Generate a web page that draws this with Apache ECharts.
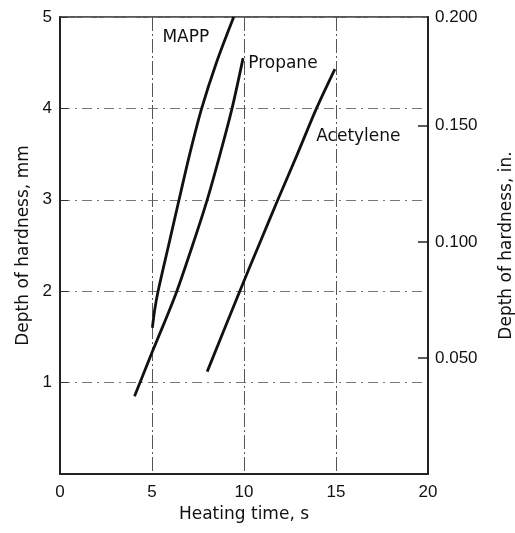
<!DOCTYPE html>
<html>
<head>
<meta charset="utf-8">
<script src="https://cdn.jsdelivr.net/npm/echarts@6/dist/echarts.min.js"></script>
<style>
  html, body { margin: 0; padding: 0; background: #fff; }
  #chart { width: 515px; height: 533px; }
</style>
</head>
<body>
<div id="chart"></div>
<script>
// heating time (s) vs depth of hardness (mm)
const mappTime = [5.02, 5.15, 5.33, 5.9, 6.47, 7.05, 7.7, 8.5, 9.44]
const mappDepth = [1.6, 1.8, 2.0, 2.5, 3.0, 3.5, 4.0, 4.5, 5.0]
const propaneTime = [4.05, 5.0, 5.7, 6.35, 7.2, 8.0, 8.7, 9.35, 9.95]
const propaneDepth = [0.85, 1.33, 1.67, 2.0, 2.5, 3.0, 3.5, 4.0, 4.55]
const acetyleneTime = [8.0, 9.77, 10.8, 11.84, 12.9, 13.94, 14.94]
const acetyleneDepth = [1.12, 2.0, 2.5, 3.0, 3.5, 4.0, 4.43]

// axes
const timeTicks = [0, 5, 10, 15, 20]
const mmTicks = [1, 2, 3, 4, 5]
const inchTicks = [0.05, 0.1, 0.15]
const inchTopLabel = '0.200'
const MM_MAX = 5
const IN_MAX = MM_MAX / 25.4

const pair = (xs, ys) => xs.map((x, i) => [x, ys[i]])

const chart = echarts.init(document.getElementById('chart'))

const nameFont = { fontFamily: 'DejaVu Sans', fontSize: 17, color: '#111' }
const tickFont = { fontFamily: 'Liberation Sans', fontSize: 17, color: '#111' }

const curve = (name, xs, ys, at) => ({
  name: name,
  type: 'line',
  data: pair(xs, ys),
  showSymbol: false,
  smooth: 0.3,
  lineStyle: { color: '#111', width: 2.8 },
  markPoint: {
    symbol: 'circle',
    symbolSize: 1,
    itemStyle: { color: 'transparent' },
    label: {
      show: true,
      position: 'right',
      distance: 0,
      formatter: name,
      ...nameFont
    },
    data: [{ coord: at }]
  }
})

const option = {
  backgroundColor: '#fff',
  animation: false,
  grid: {
    left: 60,
    right: 87,
    top: 17,
    bottom: 59,
    outerBoundsMode: 'none',
    containLabel: false,
    show: true,
    borderColor: '#222',
    borderWidth: 1.5
  },
  xAxis: {
    type: 'value',
    min: timeTicks[0],
    max: timeTicks[timeTicks.length - 1],
    interval: 5,
    name: 'Heating time, s',
    nameLocation: 'middle',
    nameGap: 32,
    nameTextStyle: nameFont,
    axisLine: { lineStyle: { color: '#222', width: 2 } },
    axisTick: { show: false },
    axisLabel: { margin: 10, ...tickFont },
    splitLine: { lineStyle: { color: '#555', width: 1, type: [14, 3, 2, 3] } }
  },
  yAxis: [
    {
      type: 'value',
      min: 0,
      max: mmTicks[mmTicks.length - 1],
      interval: 1,
      name: 'Depth of hardness, mm',
      nameLocation: 'middle',
      nameRotate: 90,
      nameGap: 28,
      nameTextStyle: nameFont,
      axisLine: { show: true, lineStyle: { color: '#222', width: 2 } },
      axisTick: { show: true, inside: true, length: 8, lineStyle: { color: '#333' } },
      axisLabel: { showMinLabel: false, margin: 8, ...tickFont },
      splitLine: { lineStyle: { color: '#777', width: 1, type: [10, 5, 2, 5] } }
    },
    {
      type: 'value',
      position: 'right',
      min: 0,
      max: IN_MAX,
      name: 'Depth of hardness, in.',
      nameLocation: 'middle',
      nameRotate: 90,
      nameGap: 70,
      nameTextStyle: nameFont,
      axisLine: { show: true, lineStyle: { color: '#222', width: 2 } },
      axisTick: {
        show: true,
        inside: true,
        length: 10,
        customValues: inchTicks,
        lineStyle: { color: '#222', width: 1.5 }
      },
      axisLabel: {
        margin: 7,
        customValues: [...inchTicks, IN_MAX],
        formatter: v => (v > IN_MAX - 1e-6 ? inchTopLabel : v.toFixed(3)),
        ...tickFont
      },
      splitLine: { show: false }
    }
  ],
  series: [
    curve('MAPP', mappTime, mappDepth, [5.54, 4.78]),
    curve('Propane', propaneTime, propaneDepth, [10.2, 4.49]),
    curve('Acetylene', acetyleneTime, acetyleneDepth, [13.9, 3.69])
  ]
}

chart.setOption(option)
</script>
</body>
</html>
